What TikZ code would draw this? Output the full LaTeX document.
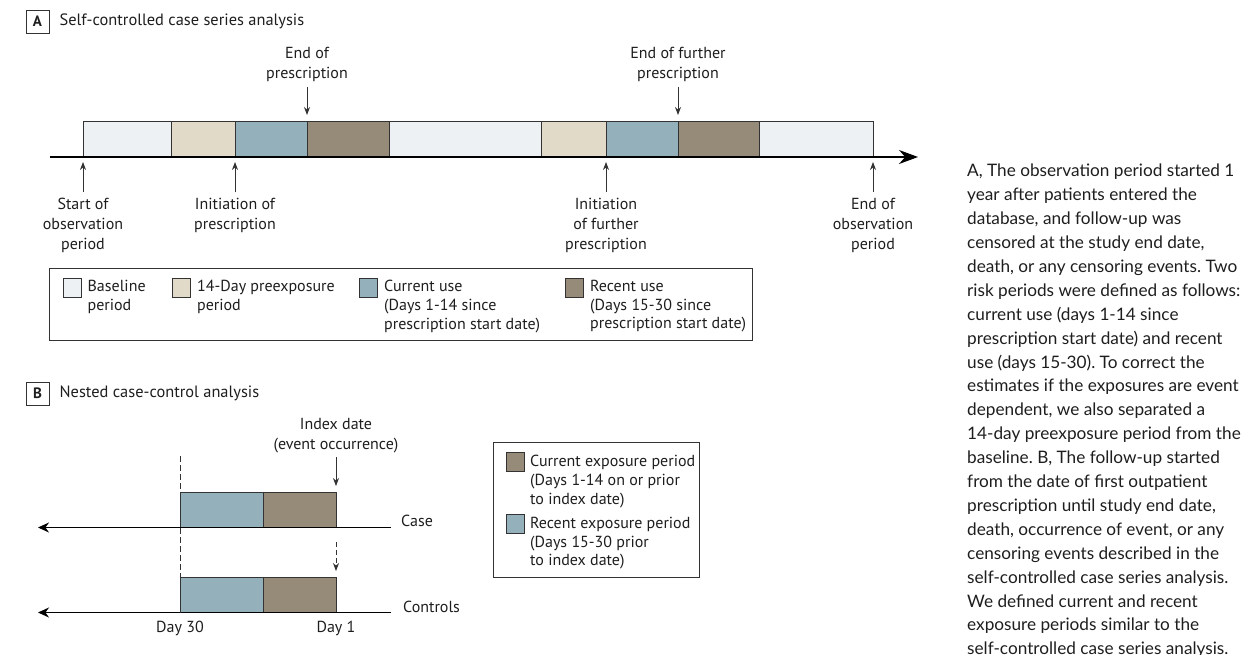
\documentclass[tikz,border=0pt]{standalone}
\usepackage{fontspec}
\setmainfont{PT Sans}
\newfontfamily\capfont{Lato}
\usetikzlibrary{positioning,arrows.meta}

\definecolor{baseclr}{RGB}{238,241,244}
\definecolor{preclr}{RGB}{226,218,200}
\definecolor{curclr}{RGB}{148,176,187}
\definecolor{recclr}{RGB}{150,138,120}
\definecolor{lineclr}{RGB}{51,51,51}
\definecolor{txtclr}{RGB}{30,30,30}

\begin{document}
\frenchspacing
\begin{tikzpicture}[x=1pt, y=-1pt,
    lbl/.style={align=center, inner sep=0pt, text=txtclr, font=\fontsize{16}{20}\selectfont},
    lgd/.style={align=left, inner sep=0pt, text=txtclr, font=\fontsize{16}{18.7}\selectfont},
    seg/.style={draw=lineclr, line width=0.9pt},
    swatch/.style={draw=lineclr, line width=0.9pt, minimum width=18pt, minimum height=19pt, inner sep=0pt},
    tag/.style={draw=lineclr, line width=0.9pt, minimum size=23pt, inner sep=0pt, text=txtclr, font=\fontsize{15}{18}\selectfont\bfseries},
    pin/.style={-{Stealth[length=8pt,width=6pt]}, line width=0.8pt, draw=lineclr},
    timeline/.style={line width=1.1pt, draw=black}]
  \useasboundingbox (0,0) rectangle (1247,654);

  % A: title
  \node[tag] (tagA) at (37.5,21.5) {A};
  \node[lbl, right=10pt of tagA, font=\fontsize{16.4}{20}\selectfont] (titleA) {Self-controlled case series analysis};

  % A: time line
  \foreach \a/\b/\c in {83/171/baseclr, 171/235/preclr, 235/307/curclr, 307/389/recclr,
                        389/541/baseclr, 541/606/preclr, 606/678/curclr, 678/759/recclr,
                        759/873/baseclr}
    \draw[seg, fill=\c] (\a,121) rectangle (\b,157);
  \draw[timeline, -{Stealth[length=19pt,width=14pt]}] (50,157) -- (918,157);

  % A: labels above
  \node[lbl, anchor=south] (endP) at (307,82) {End of\\prescription};
  \node[lbl, anchor=south] (endFP) at (678,82) {End of further\\prescription};
  \coordinate (endP-tip) at (307,115);
  \coordinate (endFP-tip) at (678,115);
  \draw[pin, shorten <=5pt] (endP.south) -- (endP-tip);
  \draw[pin, shorten <=5pt] (endFP.south) -- (endFP-tip);

  % A: labels below
  \node[lbl, anchor=north] (startObs) at (83,198) {Start of\\observation\\period};
  \node[lbl, anchor=north] (initP) at (235,198) {Initiation of\\prescription};
  \node[lbl, anchor=north] (initFP) at (606,198) {Initiation\\of further\\prescription};
  \node[lbl, anchor=north] (endObs) at (873,198) {End of\\observation\\period};
  \foreach \n/\x in {startObs/83, initP/235, initFP/606, endObs/873} {
    \coordinate (\n-tip) at (\x,162);
    \draw[pin, shorten <=6pt] (\n.north) -- (\n-tip);
  }

  % A: legend
  \draw[seg] (49,268) rectangle (752,340);
  \foreach \n/\x/\c/\t in {base/72/baseclr/{Baseline\\period},
                           pre/181.5/preclr/{14-Day preexposure\\period},
                           cur/368.5/curclr/{Current use\\(Days 1-14 since\\prescription start date)},
                           rec/574.5/recclr/{Recent use\\(Days 15-30 since\\prescription start date)}} {
    \node[swatch, fill=\c] (sw-\n) at (\x,287.5) {};
    \node[lgd, right=6pt of sw-\n.north east, anchor=north west, yshift=-2.5pt] (lg-\n) {\t};
  }

  % B: title
  \node[tag] (tagB) at (37.5,393.5) {B};
  \node[lbl, right=10pt of tagB, font=\fontsize{16.4}{20}\selectfont] (titleB) {Nested case-control analysis};

  % B: case and controls
  \foreach \y in {492, 577} {
    \draw[seg, fill=curclr] (180,\y) rectangle (263,\y+35.5);
    \draw[seg, fill=recclr] (263,\y) rectangle (336,\y+35.5);
    \draw[timeline, -{Stealth[length=11pt,width=10pt]}] (391,\y+35.5) -- (38,\y+35.5);
  }
  \node[lbl, anchor=west] (caseL) at (401,521) {Case};
  \node[lbl, anchor=west] (ctrlL) at (403,607) {Controls};

  % B: index date
  \node[lbl, anchor=south] (idx) at (336,453) {Index date\\(event occurrence)};
  \coordinate (idx-tip) at (336,486);
  \draw[pin, shorten <=4pt] (idx.south) -- (idx-tip);
  \coordinate (ctrl-top) at (336,542);
  \coordinate (ctrl-tip) at (336,571);
  \draw[pin, dash pattern=on 5pt off 3pt] (ctrl-top) -- (ctrl-tip);

  % B: day 30 line
  \coordinate (d30-top) at (180,456);
  \coordinate (d30-bot) at (180,613);
  \draw[lineclr, line width=0.8pt, dash pattern=on 6pt off 3pt] (d30-top) -- (d30-bot);
  \node[lbl, anchor=base] (day30) at (180,632) {Day 30};
  \node[lbl, anchor=base] (day1) at (336,632) {Day 1};

  % B: legend
  \draw[seg] (493,442) rectangle (699,577);
  \node[swatch, fill=recclr] (sw-cexp) at (515.5,461.5) {};
  \node[lgd, right=5pt of sw-cexp.north east, anchor=north west, yshift=-3.5pt] (lg-cexp)
    {Current exposure period\\(Days 1-14 on or prior\\to index date)};
  \node[swatch, fill=curclr] (sw-rexp) at (515.5,523.5) {};
  \node[lgd, right=5pt of sw-rexp.north east, anchor=north west, yshift=-3.5pt] (lg-rexp)
    {Recent exposure period\\(Days 15-30 prior\\to index date)};

  % caption
  \begin{scope}
    \clip (0,0) rectangle (1247,654);
    \node[anchor=north west, align=left, inner sep=0pt, text=txtclr,
          font=\capfont\fontsize{17.2}{23.9}\selectfont] (caption) at (967,164)
      {A, The observation period started 1\\
       year after patients entered the\\
       database, and follow-up was\\
       censored at the study end date,\\
       death, or any censoring events. Two\\
       risk periods were defined as follows:\\
       current use (days 1-14 since\\
       prescription start date) and recent\\
       use (days 15-30). To correct the\\
       estimates if the exposures are event\\
       dependent, we also separated a\\
       14-day preexposure period from the\\
       baseline. B, The follow-up started\\
       from the date of first outpatient\\
       prescription until study end date,\\
       death, occurrence of event, or any\\
       censoring events described in the\\
       self-controlled case series analysis.\\
       We defined current and recent\\
       exposure periods similar to the\\
       self-controlled case series analysis.};
  \end{scope}
\end{tikzpicture}
\end{document}
